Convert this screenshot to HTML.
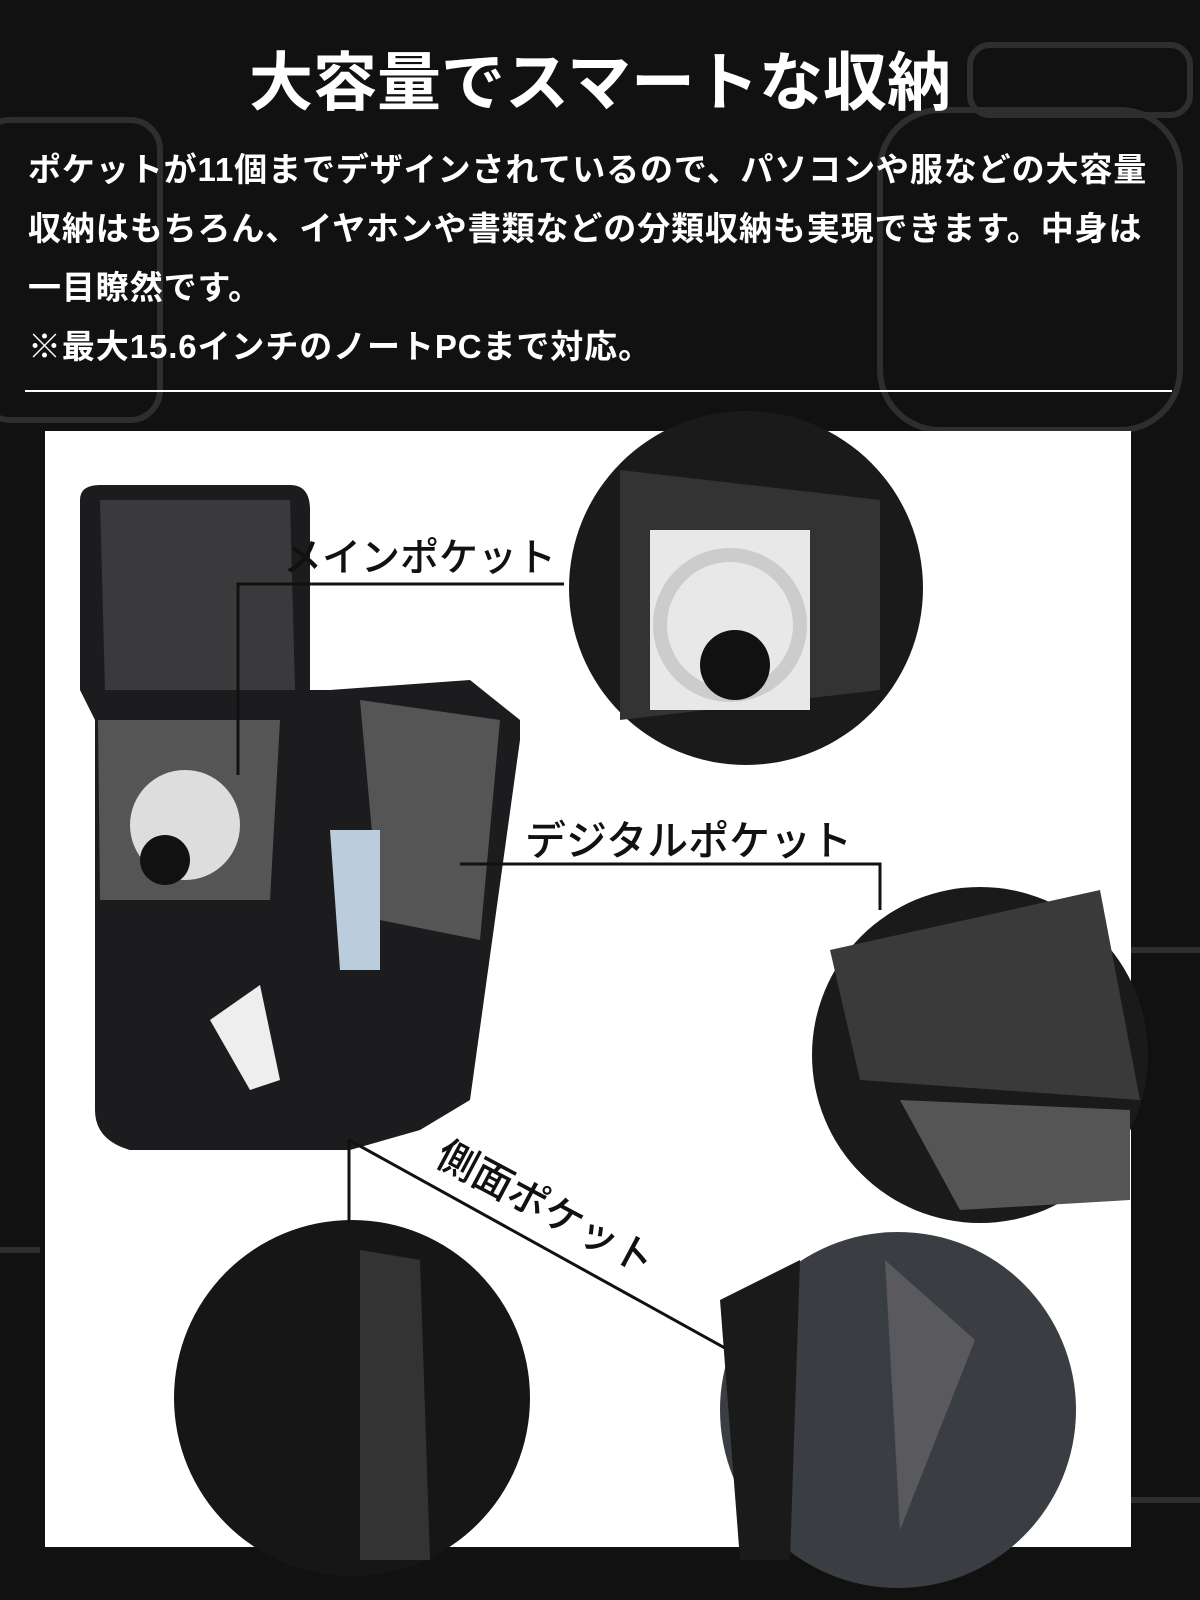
<!DOCTYPE html>
<html><head><meta charset="utf-8"><style>
*{margin:0;padding:0;box-sizing:border-box}
body{width:1200px;height:1600px;background:#111;overflow:hidden;position:relative;font-family:"Liberation Sans","Noto Sans CJK JP",sans-serif}
.t{position:absolute;color:#fff;font-weight:bold;white-space:nowrap}
.lab{position:absolute;color:#111;white-space:nowrap;font-weight:500}
</style></head><body>
<svg width="1200" height="1600" style="position:absolute;left:0;top:0">
<g stroke="#2e2e2e" stroke-width="6" fill="none">
<rect x="-20" y="120" width="180" height="300" rx="30"/>
<rect x="880" y="110" width="300" height="320" rx="60"/>
<rect x="970" y="45" width="220" height="70" rx="20"/>
<path d="M0 1250 L40 1250 M1130 950 L1200 950 M1110 1500 L1200 1500"/>
</g>
<line x1="25" y1="391" x2="1172" y2="391" stroke="#fff" stroke-width="2"/>
<rect x="45" y="431" width="1086" height="1116" fill="#fff"/>
<path d="M80 500 Q80 485 100 485 L290 485 Q310 485 310 510 L310 690 L330 690 L470 680 L520 720 L520 740 L470 1100 L420 1130 L350 1150 L130 1150 Q95 1140 95 1110 L95 720 L80 690 Z" fill="#1c1c1e"/>
<path d="M100 500 L290 500 L295 690 L105 690 Z" fill="#3a3a3c"/>
<path d="M98 720 L280 720 L270 900 L100 900 Z" fill="#555"/>
<circle cx="185" cy="825" r="55" fill="#ddd"/><circle cx="165" cy="860" r="25" fill="#111"/>
<path d="M360 700 L500 720 L480 940 L380 920 Z" fill="#555"/>
<path d="M330 830 L380 830 L380 970 L340 970 Z" fill="#bcd"/>
<path d="M210 1020 L260 985 L280 1080 L250 1090 Z" fill="#eee"/>
<circle cx="746" cy="588" r="177" fill="#1a1a1a"/>
<path d="M620 470 L880 500 L880 690 L620 720 Z" fill="#333"/>
<rect x="650" y="530" width="160" height="180" fill="#e8e8e8"/>
<circle cx="730" cy="625" r="70" fill="none" stroke="#ccc" stroke-width="14"/>
<circle cx="735" cy="665" r="35" fill="#111"/>
<circle cx="980" cy="1055" r="168" fill="#1a1a1a"/>
<path d="M830 950 L1100 890 L1140 1100 L860 1080 Z" fill="#3a3a3a"/>
<path d="M900 1100 L1130 1110 L1130 1200 L960 1210 Z" fill="#555"/>
<circle cx="352" cy="1398" r="178" fill="#161616"/>
<path d="M360 1250 L420 1260 L430 1560 L360 1560 Z" fill="#333"/>
<circle cx="898" cy="1410" r="178" fill="#3a3d42"/>
<path d="M885 1260 L975 1340 L900 1530 Z" fill="#5a5a5e"/>
<path d="M720 1300 L800 1260 L790 1560 L740 1560 Z" fill="#1a1a1a"/>
<g stroke="#111" stroke-width="3" fill="none">
<path d="M238 775 L238 584 L564 584"/>
<path d="M460 864 L880 864 L880 910"/>
<path d="M349 1140 L349 1225"/>
<path d="M349 1140 L725 1348"/>
</g>
</svg>
<div class="t" style="left:0;width:1200px;text-align:center;top:32px;font-size:64px">大容量でスマートな収納</div>
<div class="t" style="left:28px;top:140px;font-size:33px;letter-spacing:0.9px;line-height:59px">ポケットが11個までデザインされているので、パソコンや服などの大容量<br>収納はもちろん、イヤホンや書類などの分類収納も実現できます。中身は<br>一目瞭然です。<br>※最大15.6インチのノートPCまで対応。</div>
<div class="lab" style="left:283px;top:527px;font-size:39px">メインポケット</div>
<div class="lab" style="left:525px;top:807px;font-size:41px">デジタルポケット</div>
<div class="lab" style="left:455px;top:1123px;font-size:40px;transform:rotate(28deg);transform-origin:left top">側面ポケット</div>
</body></html>
